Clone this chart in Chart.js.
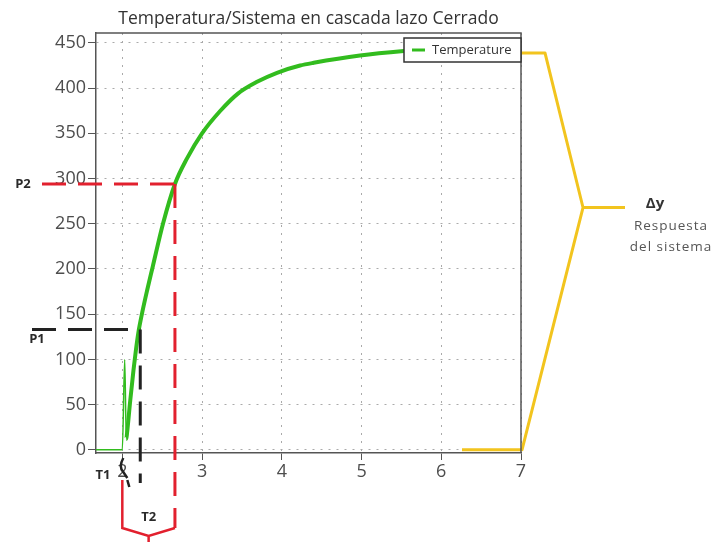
<!DOCTYPE html>
<html>
<head>
<meta charset="utf-8">
<title>Temperatura - Sistema en cascada</title>
<script src="https://cdn.jsdelivr.net/npm/chart.js@4.4.1/dist/chart.umd.min.js"></script>
<style>
  html, body { margin: 0; padding: 0; background: #fff; }
</style>
</head>
<body>
<canvas id="myChart" width="716" height="542"></canvas>
<script>
// step response of the closed loop cascade (time in s, temperature)
var tiempo      = [1.67, 2.00, 2.03, 2.05, 2.06, 2.10, 2.14, 2.17, 2.20, 2.25, 2.31, 2.38, 2.51, 2.66, 2.81, 3.00, 3.23, 3.45, 3.69, 3.94, 4.23, 4.40, 4.98, 5.53, 6.00, 6.50, 7.00];
var temperatura = [0, 0, 100, 12, 19, 55, 88, 110, 129, 152, 176, 202, 250, 294, 322, 350, 375, 394, 407, 417, 425, 428, 436, 441, 444, 446, 447];

var xTicks = [2, 3, 4, 5, 6, 7];
var yTicks = [0, 50, 100, 150, 200, 250, 300, 350, 400, 450];

// points marked on the curve (two point method)
var puntoP1 = {x: 2.225, y: 133};
var puntoP2 = {x: 2.66, y: 294};
var inicioEscalon = 2.0;

// delta y brace: top, middle and base of the response
var respuestaFinal = 439;
var respuestaMedio = 268;
var respuestaBase = 0;
var inicioBase = 6.26;

var fuente = '"Open Sans", "DejaVu Sans", sans-serif';

//plugin to draw the frame, the marks P1/P2/T1/T2, the brace and the legend
var anotaciones = {
    id: 'anotaciones',
    afterDatasetsDraw: function(chart) {
        var ctx = chart.ctx;
        var xs = chart.scales.x;
        var ys = chart.scales.y;
        var area = chart.chartArea;

        var p1x = xs.getPixelForValue(puntoP1.x), p1y = ys.getPixelForValue(puntoP1.y);
        var p2x = xs.getPixelForValue(puntoP2.x), p2y = ys.getPixelForValue(puntoP2.y);
        var tx = xs.getPixelForValue(inicioEscalon);

        ctx.save();
        ctx.lineCap = 'butt';

        // P2 red dashed
        ctx.strokeStyle = 'rgb(226,32,46)';
        ctx.lineWidth = 3;
        ctx.setLineDash([24, 12]);
        ctx.beginPath();
        ctx.moveTo(area.left - 54, p2y);
        ctx.lineTo(p2x, p2y);
        ctx.moveTo(p2x, p2y);
        ctx.lineTo(p2x, area.bottom + 75);
        ctx.stroke();

        // P1 black dashed
        ctx.strokeStyle = '#222';
        ctx.beginPath();
        ctx.moveTo(area.left - 64, p1y);
        ctx.lineTo(p1x, p1y);
        ctx.moveTo(p1x, p1y);
        ctx.lineTo(p1x, area.bottom + 30);
        ctx.stroke();
        ctx.setLineDash([]);

        // T2 bracket
        var medio = (tx + p2x) / 2;
        ctx.strokeStyle = 'rgb(226,32,46)';
        ctx.lineWidth = 2.5;
        ctx.beginPath();
        ctx.moveTo(tx, area.bottom + 27);
        ctx.lineTo(tx, area.bottom + 75);
        ctx.lineTo(medio, area.bottom + 83);
        ctx.lineTo(p2x, area.bottom + 75);
        ctx.moveTo(medio, area.bottom + 83);
        ctx.lineTo(medio, area.bottom + 89);
        ctx.stroke();

        // T1 small brace
        ctx.strokeStyle = '#222';
        ctx.lineWidth = 2.5;
        ctx.beginPath();
        ctx.moveTo(tx + 1, area.bottom + 5);
        ctx.quadraticCurveTo(tx - 4, area.bottom + 14, tx + 1, area.bottom + 19);
        ctx.lineTo(tx + 5, area.bottom + 25);
        ctx.moveTo(tx + 5, area.bottom + 27);
        ctx.lineTo(tx + 7, area.bottom + 34);
        ctx.stroke();

        // labels
        ctx.fillStyle = '#2a2a2a';
        ctx.font = 'bold 13px ' + fuente;
        ctx.textAlign = 'center';
        ctx.textBaseline = 'middle';
        ctx.fillText('P2', 23, p2y);
        ctx.fillText('P1', 37, p1y + 10);
        ctx.fillText('T1', 103, area.bottom + 22);
        ctx.fillText('T2', medio, area.bottom + 64);

        // delta y brace
        var yTop = ys.getPixelForValue(respuestaFinal);
        var yMid = ys.getPixelForValue(respuestaMedio);
        var yBase = ys.getPixelForValue(respuestaBase);
        ctx.strokeStyle = 'rgb(242,196,30)';
        ctx.lineWidth = 3;
        ctx.lineJoin = 'round';
        ctx.beginPath();
        ctx.moveTo(area.right, yTop);
        ctx.lineTo(area.right + 24, yTop);
        ctx.lineTo(area.right + 62, yMid);
        ctx.lineTo(area.right + 1, yBase);
        ctx.lineTo(xs.getPixelForValue(inicioBase), yBase);
        ctx.moveTo(area.right + 62, yMid);
        ctx.lineTo(area.right + 104, yMid);
        ctx.stroke();

        ctx.fillStyle = '#333';
        ctx.font = 'bold 15px ' + fuente;
        ctx.fillText('\u0394y', area.right + 134, yMid - 4);
        ctx.fillStyle = '#555';
        ctx.font = '13.5px ' + fuente;
        ctx.letterSpacing = '1px';
        ctx.fillText('Respuesta', area.right + 150, yMid + 19);
        ctx.fillText('del sistema', area.right + 150, yMid + 40);
        ctx.restore();
    },
    afterDraw: function(chart) {
        var ctx = chart.ctx;
        var area = chart.chartArea;
        ctx.save();
        // top and right side of the frame
        ctx.strokeStyle = '#555';
        ctx.lineWidth = 1.5;
        ctx.beginPath();
        ctx.moveTo(area.left, area.top);
        ctx.lineTo(area.right, area.top);
        ctx.lineTo(area.right, area.bottom);
        ctx.stroke();

        // legend box in the top right corner
        var ds = chart.data.datasets[0];
        var w = 117, h = 24;
        var lx = area.right - w, ly = area.top + 5;
        ctx.fillStyle = '#fff';
        ctx.fillRect(lx, ly, w, h);
        ctx.strokeStyle = '#333';
        ctx.lineWidth = 1.5;
        ctx.strokeRect(lx, ly, w, h);
        ctx.strokeStyle = ds.borderColor;
        ctx.lineWidth = 3;
        ctx.beginPath();
        ctx.moveTo(lx + 8, ly + h / 2);
        ctx.lineTo(lx + 21, ly + h / 2);
        ctx.stroke();
        ctx.fillStyle = '#333';
        ctx.font = '13px ' + fuente;
        ctx.textAlign = 'left';
        ctx.textBaseline = 'middle';
        ctx.fillText(ds.label, lx + 28, ly + h / 2);
        ctx.restore();
    }
};

//code to create the chart
var ctx = document.getElementById('myChart');
var chart = new Chart(ctx, {
    type: 'line',
    data: {
        datasets: [{
            label: 'Temperature',
            data: tiempo.map(function(t, i) { return {x: t, y: temperatura[i]}; }),
            borderColor: 'rgb(50,188,30)',
            borderWidth: 4,
            pointRadius: 0,
            fill: false,
            cubicInterpolationMode: 'monotone',
            segment: {
                // the flat start and the first spike are drawn thin
                borderWidth: function(c) { return c.p1.parsed.x <= 2.05 ? 1.5 : 4; }
            }
        }]
    },
    options: {
        responsive: false,
        animation: false,
        layout: { padding: { left: 0, right: 195, top: 0, bottom: 0 } },
        plugins: {
            legend: { display: false },
            tooltip: { enabled: false },
            title: {
                display: true,
                fullSize: false,
                text: 'Temperatura/Sistema en cascada lazo Cerrado',
                color: '#333',
                font: { family: fuente, size: 17.5, weight: 'normal' },
                padding: { top: 9, bottom: 3 }
            }
        },
        scales: {
            x: {
                type: 'linear',
                min: 1.67,
                max: 7,
                afterBuildTicks: function(scale) {
                    scale.ticks = xTicks.map(function(v) { return {value: v}; });
                },
                afterFit: function(scale) { scale.height = 89; },
                grid: { color: '#aaa', lineWidth: 1, tickLength: 7, tickColor: '#555' },
                border: { display: true, color: '#555', width: 1.5, dash: [2, 6] },
                ticks: { color: '#4d4d4d', font: { family: fuente, size: 18 }, padding: 1, maxRotation: 0 }
            },
            y: {
                min: -3.5,
                max: 461,
                afterBuildTicks: function(scale) {
                    scale.ticks = yTicks.map(function(v) { return {value: v}; });
                },
                afterFit: function(scale) { scale.width = 96; },
                grid: { color: '#aaa', lineWidth: 1, tickLength: 8, tickColor: '#555' },
                border: { display: true, color: '#555', width: 1.5, dash: [2, 6] },
                ticks: { color: '#4d4d4d', font: { family: fuente, size: 18 }, padding: 2 }
            }
        }
    },
    plugins: [anotaciones]
});
</script>
</body>
</html>
